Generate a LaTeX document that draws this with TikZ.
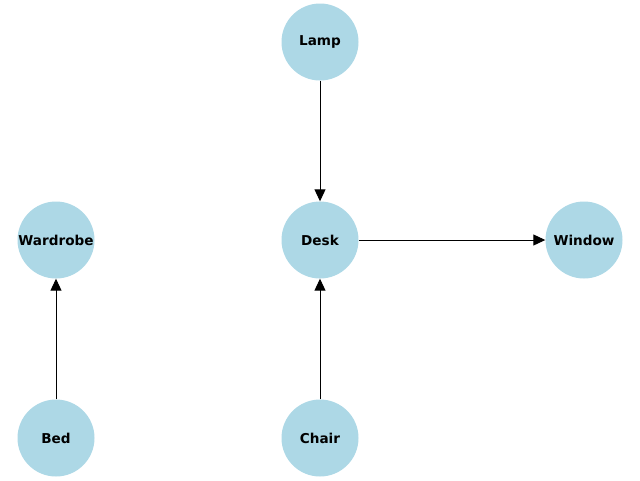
\documentclass[tikz,border=0pt]{standalone}
\usepackage{fontspec}
\setmainfont{DejaVu Sans}
\usetikzlibrary{arrows.meta}
\definecolor{lightblue}{RGB}{173,216,230}
\begin{document}
\begin{tikzpicture}[x=1pt,y=-1pt,
  nd/.style={circle,fill=lightblue,minimum size=77pt,inner sep=0pt,font=\fontsize{13.6}{15}\selectfont\bfseries},
  edge/.style={-{Triangle[length=12pt,width=11pt]},line width=1pt,shorten >=0pt}]
\useasboundingbox (0,0) rectangle (640,480);
\node[nd] (lamp) at (320,42) {Lamp};
\node[nd] (wardrobe) at (56,240) {Wardrobe};
\node[nd] (desk) at (320,240) {Desk};
\node[nd] (window) at (584,240) {Window};
\node[nd] (bed) at (56,438) {Bed};
\node[nd] (chair) at (320,438) {Chair};
\draw[edge] (lamp) -- (desk);
\draw[edge] (desk) -- (window);
\draw[edge] (chair) -- (desk);
\draw[edge] (bed) -- (wardrobe);
\end{tikzpicture}
\end{document}
